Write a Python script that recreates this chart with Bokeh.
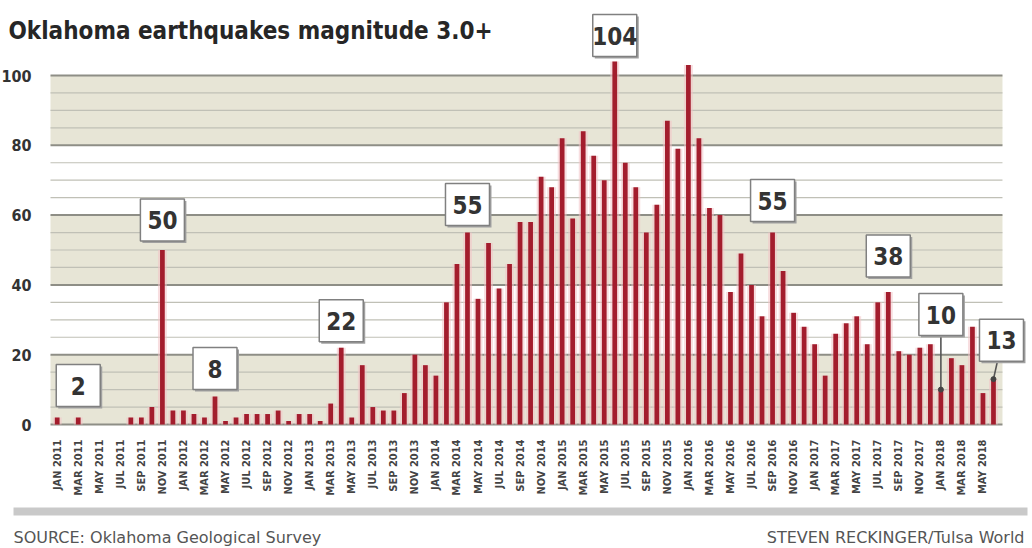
import math
from bokeh.plotting import figure
from bokeh.models import Range1d, FixedTicker, BoxAnnotation, Label, ColumnDataSource
from bokeh.core.properties import value
from bokeh.embed import file_html
from bokeh.resources import INLINE

# ---------------- data ----------------
month_names = ["JAN", "FEB", "MAR", "APR", "MAY", "JUN", "JUL", "AUG", "SEP", "OCT", "NOV", "DEC"]
years = [2011, 2012, 2013, 2014, 2015, 2016, 2017, 2018]

# monthly count of magnitude 3.0+ earthquakes, Jan 2011 - Jun 2018
counts = [
    2, 0, 2, 0, 0, 0, 0, 2, 2, 5, 50, 4,            # 2011
    4, 3, 2, 8, 1, 2, 3, 3, 3, 4, 1, 3,             # 2012
    3, 1, 6, 22, 2, 17, 5, 4, 4, 9, 20, 17,         # 2013
    14, 35, 46, 55, 36, 52, 39, 46, 58, 58, 71, 68, # 2014
    82, 59, 84, 77, 70, 104, 75, 68, 55, 63, 87, 79,# 2015
    103, 82, 62, 60, 38, 49, 40, 31, 55, 44, 32, 28,# 2016
    23, 14, 26, 29, 31, 23, 35, 38, 21, 20, 22, 23, # 2017
    10, 19, 17, 28, 9, 13,                          # 2018
]
months = [f"{m} {y}" for y in years for m in month_names][:len(counts)]

# called-out values (month of the bar they label)
ann_months = ["MAR 2011", "NOV 2011", "APR 2012", "APR 2013", "APR 2014",
              "JUN 2015", "SEP 2016", "AUG 2017", "JAN 2018", "JUN 2018"]
# styling: box centre offset above bar top (px) and horizontal shift (px)
ann_dy_px = [32, 30, 28, 27, 28, 26, 32, 36, 75, 39]
ann_dx_px = [0, 0, 0, 0, 0, 0, 0, 0, 0, 8]
leader_flags = [False, False, False, False, False, False, False, False, True, True]

y_ticks = [0, 20, 40, 60, 80, 100]
y_minor = [v for v in range(5, 100, 5) if v % 20 != 0]

title_text = "Oklahoma earthquakes magnitude 3.0+"
source_text = "SOURCE: Oklahoma Geological Survey"
credit_text = "STEVEN RECKINGER/Tulsa World"

# ---------------- styling ----------------
COND = "DejaVu Sans Condensed, Roboto Condensed, Roboto, sans-serif"
BEIGE = "#e7e5d6"
BAR = "#a31d2d"
W, H = 1028, 546
PLOT_LEFT = 50     # pixel column where the gridded area starts
ZERO_Y = 424       # pixel row of value 0
PX_X = 10.52       # px per month
PX_Y = 3.49        # px per quake
x_first = -6.7 / PX_X                       # data x at PLOT_LEFT
x_lo = x_first - PLOT_LEFT / PX_X           # data x at canvas left
x_hi = x_lo + W / PX_X
x_plot_hi = len(counts) - 1 + 9 / PX_X
y_hi = ZERO_Y / PX_Y
y_lo = -(H - ZERO_Y) / PX_Y

def dx(sx):
    return x_lo + sx / PX_X

def dy(sy):
    return (ZERO_Y - sy) / PX_Y

p = figure(width=W, height=H, x_range=Range1d(x_lo, x_hi), y_range=Range1d(y_lo, y_hi),
           output_backend="svg", toolbar_location=None, title=None,
           min_border_left=0, min_border_right=0, min_border_top=0, min_border_bottom=0)
p.outline_line_color = None
p.background_fill_color = "white"
p.border_fill_color = "white"
p.xgrid.visible = False
p.ygrid.visible = False

# bands
band_b = [y_ticks[i] for i in range(0, len(y_ticks) - 1, 2)]
band_t = [y_ticks[i + 1] for i in range(0, len(y_ticks) - 1, 2)]
p.quad(left=x_first, right=x_plot_hi, bottom=band_b, top=band_t,
       fill_color=BEIGE, line_color=None)

# grid lines
p.segment(x0=x_first, x1=x_plot_hi, y0=y_minor, y1=y_minor, line_color="#c0c0b6", line_width=1.2)
p.segment(x0=x_first, x1=x_plot_hi, y0=y_ticks, y1=y_ticks, line_color="#8e8e86", line_width=2)

# bars
src = ColumnDataSource(dict(x=list(range(len(counts))), top=counts, month=months))
p.vbar(x="x", top="top", width=0.85, source=src, fill_color="#f3c3c6", fill_alpha=0.55, line_color=None)
p.vbar(x="x", top="top", width=0.45, source=src, fill_color=BAR, line_color=None)

# callouts
idx = [months.index(m) for m in ann_months]
vals = [counts[i] for i in idx]
ax = [i + ddx / PX_X for i, ddx in zip(idx, ann_dx_px)]
ay = [v + ddy / PX_Y for v, ddy in zip(vals, ann_dy_px)]
BW, BH = 44, 42

lx0, ly0, lx1, ly1 = [], [], [], []
for i, v, x, y, f, ddx in zip(idx, vals, ax, ay, leader_flags, ann_dx_px):
    if f:
        lx0.append(i + (ddx / 2) / PX_X)
        ly0.append(y - (BH / 2) / PX_Y)
        lx1.append(i)
        ly1.append(v)
p.segment(x0=lx0, y0=ly0, x1=lx1, y1=ly1, line_color="#555555", line_width=1.6)
p.scatter(x=lx1, y=ly1, size=5, color="#444444")

p.rect(x=[x + 2 / PX_X for x in ax], y=[y - 2 / PX_Y for y in ay], width=BW, height=BH,
       width_units="screen", height_units="screen", fill_color="#a0a0a0", line_color=None)
p.rect(x=ax, y=ay, width=BW, height=BH, width_units="screen", height_units="screen",
       fill_color="white", line_color="#808080", line_width=1.5)
p.text(x=ax, y=ay, text=[str(v) for v in vals], text_align="center", text_baseline="middle",
       text_font=value(COND), text_font_size="24px", text_font_style="bold", text_color="#333333")

# axes, drawn at fixed positions inside the canvas
p.yaxis.fixed_location = x_first
p.yaxis.ticker = FixedTicker(ticks=y_ticks)
p.yaxis.axis_line_color = None
p.yaxis.major_tick_line_color = None
p.yaxis.minor_tick_line_color = None
p.yaxis.major_label_standoff = 13
p.yaxis.major_label_text_font = COND
p.yaxis.major_label_text_font_size = "16px"
p.yaxis.major_label_text_font_style = "bold"
p.yaxis.major_label_text_color = "#333333"

xt = list(range(0, len(counts), 2))
p.xaxis.fixed_location = 0
p.xaxis.ticker = FixedTicker(ticks=xt)
p.xaxis.major_label_overrides = {i: months[i] for i in xt}
p.xaxis.major_label_orientation = math.pi / 2
p.xaxis.axis_line_color = None
p.xaxis.major_tick_line_color = None
p.xaxis.minor_tick_line_color = None
p.xaxis.major_label_standoff = 9
p.xaxis.major_label_text_font = COND
p.xaxis.major_label_text_font_size = "11px"
p.xaxis.major_label_text_font_style = "bold"
p.xaxis.major_label_text_color = "#444444"

# title and footer
p.add_layout(Label(x=dx(8), y=dy(30), text=title_text, text_font=COND, text_font_size="24px",
                   text_font_style="bold", text_color="#262626", text_baseline="middle"))
p.add_layout(BoxAnnotation(left=dx(13), right=dx(1027), top=dy(507), bottom=dy(515),
                           fill_color="#c9c9c9", fill_alpha=1, line_color=None))
p.add_layout(Label(x=dx(13), y=dy(537), text=source_text, text_font="DejaVu Sans",
                   text_font_size="16px", text_color="#555555", text_baseline="middle"))
p.add_layout(Label(x=dx(1024), y=dy(537), text=credit_text, text_font="DejaVu Sans",
                   text_font_size="16px", text_color="#555555", text_baseline="middle",
                   text_align="right"))

open("out.html", "w").write(file_html(p, INLINE))
